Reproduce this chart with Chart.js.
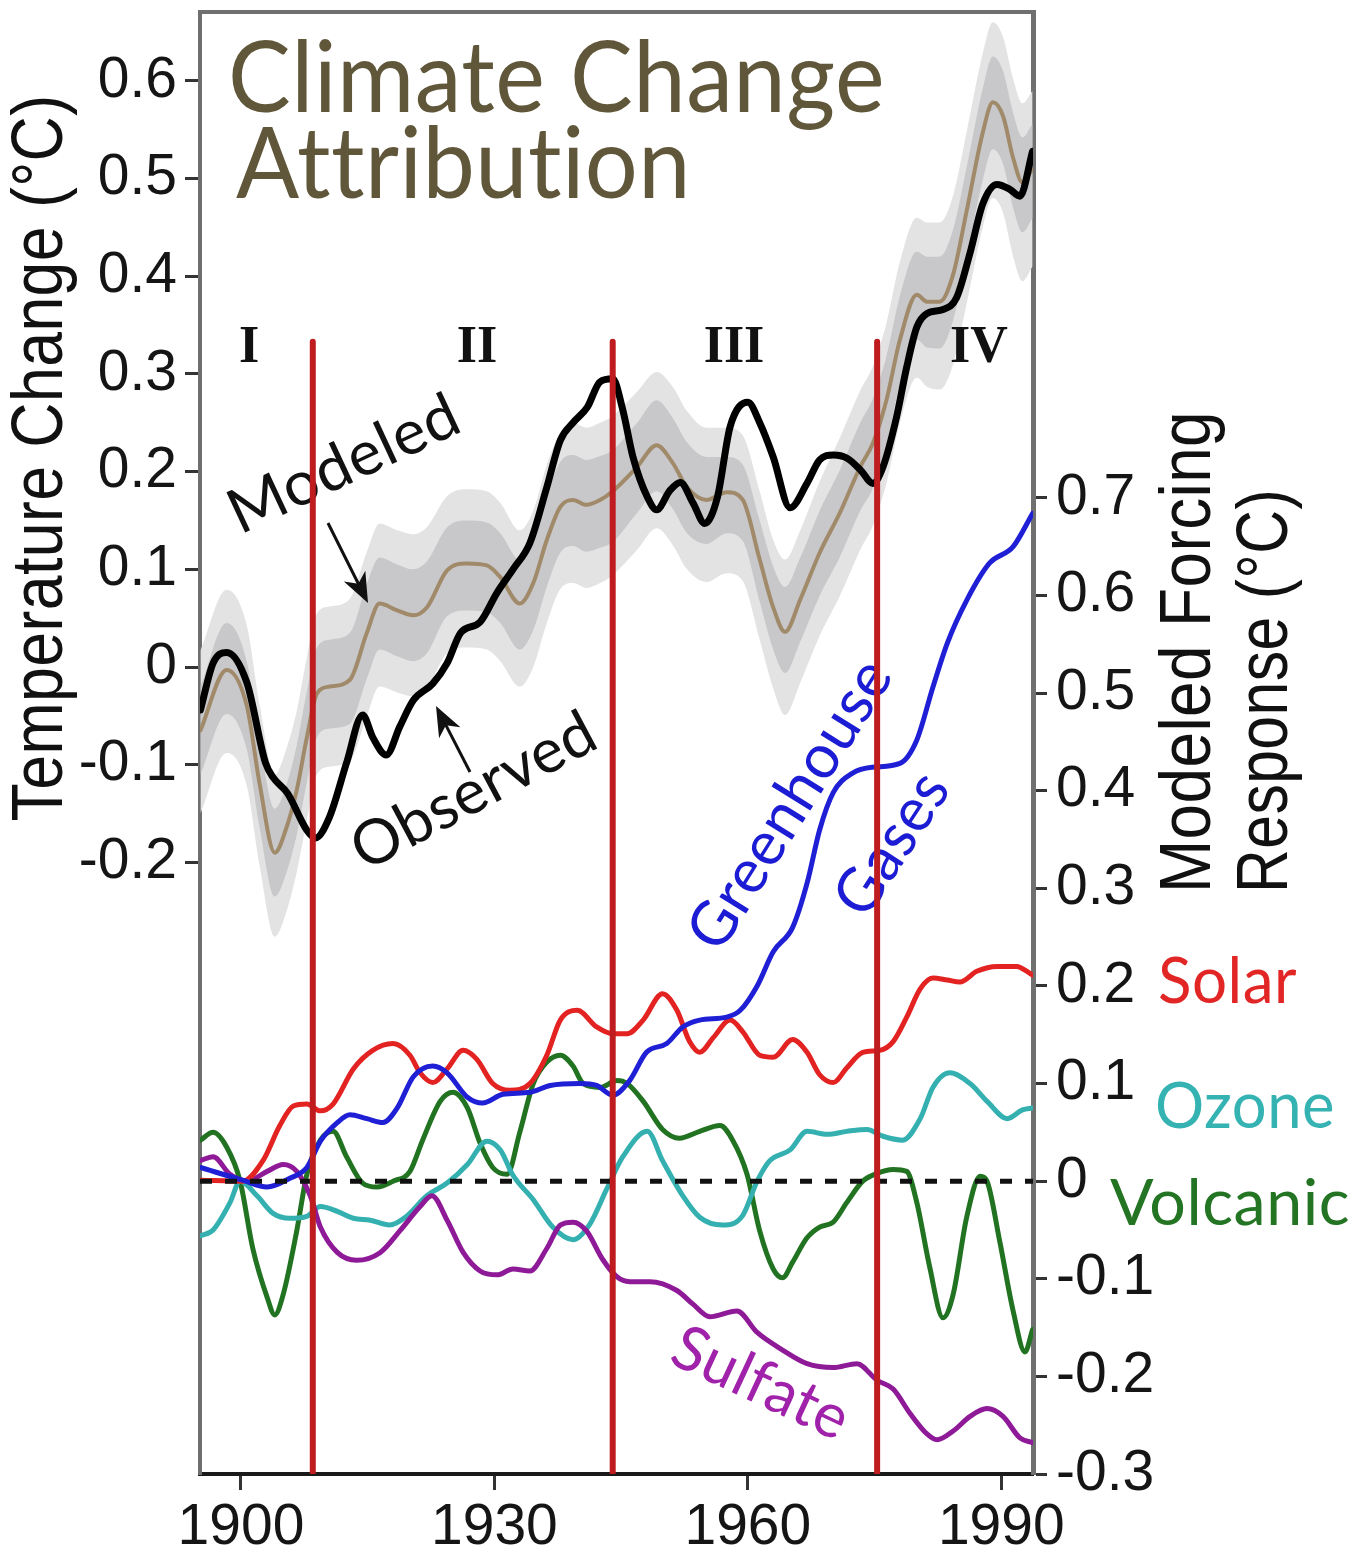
<!DOCTYPE html>
<html>
<head>
<meta charset="utf-8">
<title>Climate Change Attribution</title>
<script src="https://cdn.jsdelivr.net/npm/chart.js@4.4.1/dist/chart.umd.min.js"></script>
<style>
  html, body { margin: 0; padding: 0; background: #ffffff; }
  canvas { display: block; }
</style>
</head>
<body>
<canvas id="chart" width="1352" height="1559"></canvas>
<script>
// ---- Axis ticks ----
const yearTicks = [1900, 1930, 1960, 1990];
const tempTicks = [-0.2, -0.1, 0, 0.1, 0.2, 0.3, 0.4, 0.5, 0.6];
const forcingTicks = [-0.3, -0.2, -0.1, 0, 0.1, 0.2, 0.3, 0.4, 0.5, 0.6, 0.7];

// ---- Period boundaries (years) ----
const periodBreaks = [1908.5, 1944.0, 1975.3];
const periodLineTop = 0.86;      // forcing-axis value where the boundary lines stop

// ---- Observed temperature change (°C) ----
const obsYears = [1895.2, 1896.7, 1898.3, 1900.7, 1902.9, 1903.8, 1905.5, 1907.8, 1908.8, 1910.5,
  1912.5, 1914.4, 1915.6, 1917.2, 1918.8, 1920.4, 1922.7, 1924.4, 1926.0, 1928.3,
  1930.3, 1932.2, 1934.2, 1936.2, 1937.8, 1939.3, 1941.0, 1942.5, 1944.0, 1945.2,
  1946.4, 1948.1, 1949.2, 1950.8, 1952.0, 1953.5, 1954.9, 1956.4, 1957.9, 1960.0,
  1961.4, 1963.0, 1965.0, 1967.0, 1968.5, 1970.1, 1971.7, 1973.3, 1974.8, 1976.0,
  1977.6, 1978.8, 1980.0, 1981.2, 1983.1, 1984.7, 1986.3, 1987.8, 1989.5, 1991.0,
  1992.2, 1993.7];
const obsValues = [-0.044, 0.004, 0.015, -0.016, -0.098, -0.113, -0.129, -0.167, -0.175, -0.153,
  -0.098, -0.049, -0.072, -0.09, -0.061, -0.034, -0.017, 0.004, 0.035, 0.046,
  0.076, 0.1, 0.127, 0.184, 0.232, 0.25, 0.266, 0.292, 0.295, 0.263,
  0.215, 0.174, 0.161, 0.181, 0.189, 0.168, 0.147, 0.174, 0.246, 0.271,
  0.25, 0.215, 0.163, 0.188, 0.212, 0.217, 0.214, 0.202, 0.188, 0.205,
  0.256, 0.307, 0.348, 0.362, 0.366, 0.378, 0.424, 0.474, 0.494, 0.489,
  0.482, 0.528];

// ---- Modeled temperature change (°C): ensemble mean and spread ----
const modelYears = [1895.2, 1898.3, 1900.7, 1902.2, 1904.0, 1905.4, 1906.6, 1907.8, 1909.0, 1910.5,
  1912.9, 1914.9, 1916.4, 1918.5, 1920.4, 1922.0, 1924.4, 1926.7, 1929.1, 1930.7,
  1933.0, 1934.6, 1936.2, 1937.8, 1939.3, 1940.9, 1942.5, 1944.0, 1946.9, 1949.2,
  1951.1, 1952.8, 1955.1, 1957.5, 1959.4, 1961.4, 1963.0, 1964.4, 1966.2, 1968.5,
  1970.9, 1973.3, 1974.8, 1976.4, 1978.0, 1980.0, 1981.2, 1982.7, 1984.3, 1985.9,
  1987.8, 1989.0, 1990.2, 1991.4, 1992.5, 1993.7];
const modelMean = [-0.065, -0.003, -0.04, -0.119, -0.19, -0.164, -0.126, -0.072, -0.027, -0.02,
  -0.013, 0.035, 0.065, 0.058, 0.053, 0.061, 0.099, 0.106, 0.104, 0.092,
  0.065, 0.086, 0.13, 0.164, 0.171, 0.166, 0.171, 0.18, 0.205, 0.227,
  0.209, 0.184, 0.171, 0.179, 0.171, 0.11, 0.061, 0.036, 0.069, 0.117,
  0.158, 0.205, 0.229, 0.273, 0.335, 0.381, 0.374, 0.374, 0.402, 0.467,
  0.547, 0.578, 0.564, 0.521, 0.496, 0.51];
const modelInnerHigh = [-0.02, 0.045, 0.005, -0.075, -0.145, -0.12, -0.08, -0.025, 0.02, 0.028,
  0.035, 0.085, 0.112, 0.105, 0.1, 0.108, 0.143, 0.15, 0.148, 0.137,
  0.11, 0.13, 0.176, 0.21, 0.217, 0.212, 0.216, 0.222, 0.25, 0.273,
  0.255, 0.23, 0.215, 0.215, 0.207, 0.15, 0.103, 0.082, 0.112, 0.16,
  0.202, 0.25, 0.275, 0.318, 0.38, 0.425, 0.42, 0.42, 0.448, 0.512,
  0.592, 0.625, 0.61, 0.567, 0.542, 0.556];
const modelInnerLow = [-0.11, -0.048, -0.085, -0.164, -0.235, -0.21, -0.172, -0.118, -0.072, -0.063,
  -0.058, -0.012, 0.018, 0.011, 0.006, 0.014, 0.052, 0.058, 0.056, 0.045,
  0.018, 0.038, 0.082, 0.117, 0.124, 0.118, 0.122, 0.128, 0.158, 0.18,
  0.162, 0.137, 0.126, 0.137, 0.129, 0.067, 0.018, -0.006, 0.026, 0.073,
  0.113, 0.16, 0.183, 0.227, 0.29, 0.335, 0.327, 0.326, 0.355, 0.42,
  0.498, 0.53, 0.515, 0.47, 0.445, 0.46];
const modelOuterHigh = [0.017, 0.079, 0.042, -0.038, -0.11, -0.083, -0.045, 0.01, 0.055, 0.062,
  0.07, 0.118, 0.147, 0.14, 0.136, 0.143, 0.175, 0.182, 0.18, 0.168,
  0.14, 0.16, 0.207, 0.24, 0.25, 0.245, 0.25, 0.257, 0.282, 0.302,
  0.287, 0.262, 0.245, 0.245, 0.237, 0.18, 0.13, 0.11, 0.14, 0.19,
  0.235, 0.283, 0.308, 0.352, 0.415, 0.46, 0.455, 0.455, 0.483, 0.548,
  0.628, 0.66, 0.645, 0.602, 0.577, 0.59];
const modelOuterLow = [-0.15, -0.088, -0.122, -0.203, -0.276, -0.25, -0.21, -0.157, -0.11, -0.102,
  -0.096, -0.05, -0.02, -0.026, -0.03, -0.022, 0.014, 0.02, 0.018, 0.006,
  -0.02, 0.0, 0.045, 0.08, 0.086, 0.081, 0.086, 0.094, 0.12, 0.142,
  0.125, 0.1, 0.087, 0.096, 0.088, 0.028, -0.022, -0.049, -0.016, 0.032,
  0.073, 0.12, 0.145, 0.188, 0.25, 0.296, 0.287, 0.284, 0.31, 0.372,
  0.45, 0.48, 0.465, 0.42, 0.395, 0.41];

// ---- Modeled forcing responses (°C) ----
const ghgYears = [1895.2, 1900.2, 1903.1, 1905.8, 1907.8, 1909.4, 1911.4, 1912.9, 1914.9, 1916.8,
  1918.5, 1920.4, 1922.7, 1924.4, 1926.8, 1928.6, 1931.0, 1934.2, 1936.6, 1940.1,
  1942.1, 1944.0, 1946.0, 1948.0, 1950.4, 1952.3, 1954.3, 1957.5, 1959.1, 1961.1,
  1963.0, 1965.3, 1967.0, 1968.5, 1970.1, 1972.4, 1974.7, 1978.0, 1980.0, 1981.9,
  1983.6, 1985.9, 1988.6, 1991.4, 1993.7];
const ghgValues = [0.014, 0.001, -0.006, 0.003, 0.014, 0.041, 0.06, 0.068, 0.064, 0.06,
  0.075, 0.107, 0.118, 0.111, 0.086, 0.08, 0.089, 0.091, 0.098, 0.1,
  0.098, 0.088, 0.103, 0.132, 0.141, 0.158, 0.165, 0.168, 0.175, 0.2,
  0.235, 0.26, 0.305, 0.36, 0.398, 0.418, 0.424, 0.428, 0.452, 0.506,
  0.551, 0.595, 0.633, 0.65, 0.684];

const solarYears = [1895.2, 1900.2, 1902.6, 1904.6, 1906.2, 1907.8, 1909.4, 1910.9, 1913.3, 1915.6,
  1918.0, 1920.0, 1921.2, 1922.7, 1924.4, 1926.3, 1927.9, 1929.8, 1931.8, 1934.2,
  1936.2, 1937.8, 1939.8, 1942.1, 1944.0, 1945.7, 1947.6, 1949.9, 1951.6, 1953.1,
  1954.3, 1955.9, 1957.9, 1959.4, 1961.4, 1963.0, 1965.3, 1967.0, 1968.5, 1970.1,
  1971.7, 1973.6, 1975.6, 1977.2, 1978.8, 1980.4, 1981.9, 1983.6, 1985.1, 1987.1,
  1989.5, 1991.8, 1993.7];
const solarValues = [0.001, 0.0, 0.021, 0.057, 0.077, 0.079, 0.072, 0.079, 0.115, 0.134,
  0.141, 0.129, 0.111, 0.101, 0.115, 0.134, 0.125, 0.1, 0.093, 0.1,
  0.129, 0.165, 0.175, 0.158, 0.151, 0.151, 0.165, 0.192, 0.175, 0.143,
  0.132, 0.147, 0.165, 0.153, 0.129, 0.127, 0.145, 0.132, 0.109, 0.101,
  0.116, 0.132, 0.134, 0.143, 0.168, 0.197, 0.208, 0.206, 0.204, 0.215,
  0.22, 0.22, 0.211];

const ozoneYears = [1895.2, 1896.7, 1898.7, 1899.9, 1901.9, 1903.8, 1905.8, 1907.8, 1909.4, 1911.4,
  1913.3, 1915.3, 1917.6, 1919.6, 1922.0, 1924.4, 1926.8, 1929.1, 1930.7, 1932.2,
  1934.6, 1936.9, 1939.3, 1941.3, 1943.3, 1945.2, 1948.1, 1949.9, 1952.3, 1954.3,
  1957.0, 1959.4, 1961.1, 1962.6, 1965.0, 1967.0, 1969.4, 1971.7, 1974.1, 1976.0,
  1978.3, 1980.4, 1981.9, 1983.9, 1986.3, 1988.3, 1990.7, 1992.5, 1993.7];
const ozoneValues = [-0.056, -0.05, -0.022, 0.0, -0.015, -0.033, -0.038, -0.036, -0.026, -0.031,
  -0.038, -0.04, -0.045, -0.036, -0.015, -0.002, 0.017, 0.041, 0.032, 0.006,
  -0.019, -0.047, -0.06, -0.044, -0.008, 0.025, 0.051, 0.021, -0.015, -0.037,
  -0.045, -0.035, 0.0, 0.021, 0.032, 0.051, 0.048, 0.051, 0.053, 0.046,
  0.042, 0.064, 0.096, 0.111, 0.1, 0.082, 0.064, 0.073, 0.075];

const volcanicYears = [1895.2, 1896.7, 1898.3, 1899.9, 1901.4, 1903.1, 1904.0, 1905.0, 1906.6, 1907.8,
  1909.4, 1910.9, 1912.5, 1914.4, 1916.1, 1918.0, 1920.0, 1921.5, 1923.6, 1925.1,
  1926.8, 1928.3, 1929.8, 1931.5, 1933.0, 1934.6, 1936.2, 1937.8, 1939.3, 1940.5,
  1942.5, 1944.5, 1945.7, 1947.6, 1949.9, 1951.9, 1954.3, 1956.7, 1958.2, 1959.9,
  1961.4, 1963.0, 1964.1, 1965.3, 1967.0, 1968.5, 1970.1, 1971.7, 1973.6, 1975.3,
  1977.2, 1978.8, 1980.0, 1981.5, 1983.1, 1984.3, 1985.9, 1987.5, 1988.3, 1989.8,
  1991.4, 1992.8, 1993.7];
const volcanicValues = [0.042, 0.05, 0.035, 0.0, -0.069, -0.119, -0.137, -0.116, -0.051, 0.007,
  0.042, 0.051, 0.025, -0.002, -0.006, 0.0, 0.01, 0.042, 0.082, 0.091,
  0.075, 0.039, 0.014, 0.007, 0.05, 0.1, 0.122, 0.129, 0.118, 0.1,
  0.096, 0.103, 0.1, 0.082, 0.053, 0.044, 0.051, 0.057, 0.042, 0.007,
  -0.051, -0.09, -0.099, -0.083, -0.058, -0.047, -0.042, -0.022, 0.0, 0.008,
  0.012, 0.01, -0.022, -0.087, -0.14, -0.116, -0.037, 0.005, 0.0, -0.061,
  -0.133, -0.175, -0.152];

const sulfateYears = [1895.2, 1896.7, 1898.7, 1900.7, 1903.1, 1905.0, 1906.6, 1908.2, 1909.4, 1911.4,
  1913.7, 1916.5, 1918.8, 1921.2, 1922.6, 1924.4, 1926.3, 1928.3, 1930.3, 1932.2,
  1934.2, 1936.2, 1937.8, 1939.3, 1940.9, 1942.8, 1944.5, 1946.0, 1948.4, 1951.6,
  1953.5, 1955.5, 1958.7, 1961.1, 1964.1, 1967.0, 1970.1, 1972.9, 1975.3, 1977.2,
  1979.2, 1981.2, 1982.4, 1984.3, 1986.3, 1988.3, 1990.2, 1992.2, 1993.7];
const sulfateValues = [0.021, 0.025, 0.007, 0.0, 0.01, 0.017, 0.01, -0.015, -0.047, -0.073,
  -0.081, -0.073, -0.051, -0.026, -0.015, -0.04, -0.073, -0.092, -0.096, -0.09,
  -0.092, -0.069, -0.045, -0.042, -0.051, -0.08, -0.098, -0.103, -0.103, -0.112,
  -0.126, -0.139, -0.133, -0.155, -0.173, -0.187, -0.191, -0.187, -0.204, -0.213,
  -0.238, -0.259, -0.265, -0.256, -0.241, -0.233, -0.241, -0.263, -0.268];

// ---- Axis ranges ----
const YEAR_MIN = 1895.15, YEAR_MAX = 1993.75;
const TEMP_MIN = -0.826, TEMP_MAX = 0.6705;
const FORCE_MIN = -0.3, FORCE_MAX = 1.1977;

const SANS = '"Liberation Sans", Arial, Helvetica, sans-serif';
const HUMANIST = 'Lato, "Open Sans", sans-serif';

const pts = (xs, ys) => xs.map((x, i) => ({ x, y: ys[i] }));
const tickText = v => (Math.abs(v) < 1e-9 ? '0' : Number(v).toFixed(1));

// Draws a text run whose advance is fitted to a given length along its baseline.
function fitText(ctx, text, x, y, o) {
  ctx.save();
  ctx.translate(x, y);
  ctx.rotate((o.angle || 0) * Math.PI / 180);
  ctx.font = o.font;
  ctx.fillStyle = o.color;
  ctx.textAlign = o.align || 'left';
  ctx.textBaseline = 'alphabetic';
  // a hair of tracking keeps the letters as separate glyphs (no ligatures)
  if ('letterSpacing' in ctx) ctx.letterSpacing = '0.5px';
  if (o.length) {
    const w = ctx.measureText(text).width;
    ctx.scale(o.length / w, 1);
  }
  ctx.fillText(text, 0, 0);
  ctx.restore();
}

function arrow(ctx, x1, y1, x2, y2) {
  const a = Math.atan2(y2 - y1, x2 - x1);
  const head = 30, half = 12;
  const c = Math.cos(a), s = Math.sin(a);
  ctx.save();
  ctx.strokeStyle = '#111';
  ctx.fillStyle = '#111';
  ctx.lineWidth = 3;
  ctx.beginPath();
  ctx.moveTo(x1, y1);
  ctx.lineTo(x2 - c * head * 0.7, y2 - s * head * 0.7);
  ctx.stroke();
  ctx.beginPath();
  ctx.moveTo(x2, y2);
  ctx.lineTo(x2 - c * head + s * half, y2 - s * head - c * half);
  ctx.lineTo(x2 - c * head * 0.72, y2 - s * head * 0.72);
  ctx.lineTo(x2 - c * head - s * half, y2 - s * head + c * half);
  ctx.closePath();
  ctx.fill();
  ctx.restore();
}

const annotations = {
  id: 'annotations',
  beforeDatasetsDraw(chart) {
    const ctx = chart.ctx;
    // Title
    fitText(ctx, 'Climate Change', 228, 112, { font: `98px ${HUMANIST}`, color: '#60573a', length: 657 });
    fitText(ctx, 'Attribution', 236, 198, { font: `98px ${HUMANIST}`, color: '#60573a', length: 455 });

    // Curve call-outs
    fitText(ctx, 'Modeled', 240, 535, { font: `62px ${HUMANIST}`, color: '#111', angle: -25, length: 248 });
    fitText(ctx, 'Observed', 365, 872, { font: `62px ${HUMANIST}`, color: '#111', angle: -28, length: 268 });
    fitText(ctx, 'Greenhouse', 720, 955, { font: `62px ${HUMANIST}`, color: '#1c1cd4', angle: -58, length: 330 });
    fitText(ctx, 'Gases', 866, 921, { font: `62px ${HUMANIST}`, color: '#1c1cd4', angle: -57, length: 158 });
    fitText(ctx, 'Sulfate', 667, 1362, { font: `62px ${HUMANIST}`, color: '#a122aa', angle: 25, length: 188 });

    // Forcing names beside the right axis
    fitText(ctx, 'Solar', 1158, 1003, { font: `63px ${HUMANIST}`, color: '#e22626', length: 139 });
    fitText(ctx, 'Ozone', 1155, 1128, { font: `63px ${HUMANIST}`, color: '#35b2b2', length: 180 });
    fitText(ctx, 'Volcanic', 1110, 1225, { font: `63px ${HUMANIST}`, color: '#237523', length: 240 });

    // Axis titles
    fitText(ctx, 'Temperature Change (°C)', 62, 458, { font: `72px ${SANS}`, color: '#111', angle: -90, align: 'center', length: 727 });
    fitText(ctx, 'Modeled Forcing', 1210, 893, { font: `72px ${SANS}`, color: '#111', angle: -90, length: 482 });
    fitText(ctx, 'Response (°C)', 1287, 893, { font: `72px ${SANS}`, color: '#111', angle: -90, length: 404 });
  },
  afterDatasetsDraw(chart) {
    const ctx = chart.ctx;
    // Pointers from the call-outs to their curves sit above the shaded spread
    arrow(ctx, 328, 523, 368, 603);
    arrow(ctx, 470, 772, 436, 706);

    const labels = [['I', 249], ['II', 477], ['III', 734], ['IV', 979]];
    ctx.save();
    ctx.font = 'bold 52px "Liberation Serif", "Times New Roman", serif';
    ctx.fillStyle = '#111';
    ctx.textAlign = 'center';
    ctx.textBaseline = 'alphabetic';
    labels.forEach(([t, x]) => ctx.fillText(t, x, 362));
    ctx.restore();
  },
  afterDraw(chart) {
    const { ctx, chartArea } = chart;
    ctx.save();
    ctx.strokeStyle = '#707070';
    ctx.lineWidth = 4;
    ctx.beginPath();
    ctx.moveTo(chartArea.left - 2, chartArea.top);
    ctx.lineTo(chartArea.right + 2, chartArea.top);
    ctx.stroke();
    ctx.restore();
  }
};

const line = (data, color, width, axis, extra) => Object.assign({
  data, borderColor: color, borderWidth: width, yAxisID: axis,
  pointRadius: 0, fill: false, cubicInterpolationMode: 'monotone'
}, extra || {});

const periodDatasets = periodBreaks.map(yr => line(
  [{ x: yr, y: periodLineTop }, { x: yr, y: FORCE_MIN }], '#bf1c20', 6, 'yForce',
  { cubicInterpolationMode: 'default', tension: 0, borderCapStyle: 'butt' }));

const datasets = [
  ...periodDatasets,
  line(pts(obsYears, obsValues), '#000000', 7, 'yTemp'),
  line(pts(modelYears, modelMean), '#a08a6a', 4, 'yTemp'),
  line(pts(modelYears, modelInnerHigh), 'rgba(0,0,0,0)', 0, 'yTemp'),
  line(pts(modelYears, modelInnerLow), 'rgba(0,0,0,0)', 0, 'yTemp', { fill: '-1', backgroundColor: '#c8c8ca' }),
  line(pts(modelYears, modelOuterHigh), 'rgba(0,0,0,0)', 0, 'yTemp'),
  line(pts(modelYears, modelOuterLow), 'rgba(0,0,0,0)', 0, 'yTemp', { fill: '-1', backgroundColor: '#e3e3e3' }),
  line([{ x: YEAR_MIN, y: 0 }, { x: YEAR_MAX, y: 0 }], '#111111', 5, 'yForce',
    { borderDash: [12, 13], borderCapStyle: 'butt', cubicInterpolationMode: 'default', tension: 0 }),
  line(pts(ghgYears, ghgValues), '#1f1fd6', 5, 'yForce'),
  line(pts(solarYears, solarValues), '#e32222', 5, 'yForce'),
  line(pts(sulfateYears, sulfateValues), '#8e1a98', 5, 'yForce'),
  line(pts(ozoneYears, ozoneValues), '#35b0b0', 5, 'yForce'),
  line(pts(volcanicYears, volcanicValues), '#217321', 5, 'yForce')
];

const tickFont = { family: SANS, size: 57 };

new Chart(document.getElementById('chart'), {
  type: 'line',
  data: { datasets },
  options: {
    responsive: false,
    animation: false,
    events: [],
    layout: { padding: { top: 12, left: 0, right: 0, bottom: 0 } },
    plugins: { legend: { display: false }, tooltip: { enabled: false }, title: { display: false } },
    elements: { line: { borderJoinStyle: 'round', borderCapStyle: 'round' } },
    scales: {
      x: {
        type: 'linear', position: 'bottom', min: YEAR_MIN, max: YEAR_MAX,
        afterBuildTicks: s => { s.ticks = yearTicks.map(v => ({ value: v })); },
        afterFit: s => { s.height = 85; s.paddingLeft = 0; s.paddingRight = 0; },
        ticks: { font: tickFont, color: '#151515', padding: 4, maxRotation: 0, callback: v => String(v) },
        grid: { drawOnChartArea: false, drawTicks: true, tickLength: 16, tickWidth: 3, tickColor: '#333' },
        border: { display: true, color: '#1a1a1a', width: 4 }
      },
      yTemp: {
        type: 'linear', position: 'left', min: TEMP_MIN, max: TEMP_MAX,
        afterBuildTicks: s => { s.ticks = tempTicks.map(v => ({ value: v })); },
        afterFit: s => { s.width = 200; s.paddingTop = 0; s.paddingBottom = 0; },
        ticks: { font: tickFont, color: '#151515', padding: 8, callback: tickText },
        grid: { drawOnChartArea: false, drawTicks: true, tickLength: 15, tickWidth: 3, tickColor: '#333' },
        border: { display: true, color: '#6e6e6e', width: 4 }
      },
      yForce: {
        type: 'linear', position: 'right', min: FORCE_MIN, max: FORCE_MAX,
        afterBuildTicks: s => { s.ticks = forcingTicks.map(v => ({ value: v })); },
        afterFit: s => { s.width = 319; s.paddingTop = 0; s.paddingBottom = 0; },
        ticks: { font: tickFont, color: '#151515', padding: 9, callback: tickText },
        grid: { drawOnChartArea: false, drawTicks: true, tickLength: 14, tickWidth: 3, tickColor: '#333' },
        border: { display: true, color: '#707070', width: 5 }
      }
    }
  },
  plugins: [annotations]
});
</script>
</body>
</html>
